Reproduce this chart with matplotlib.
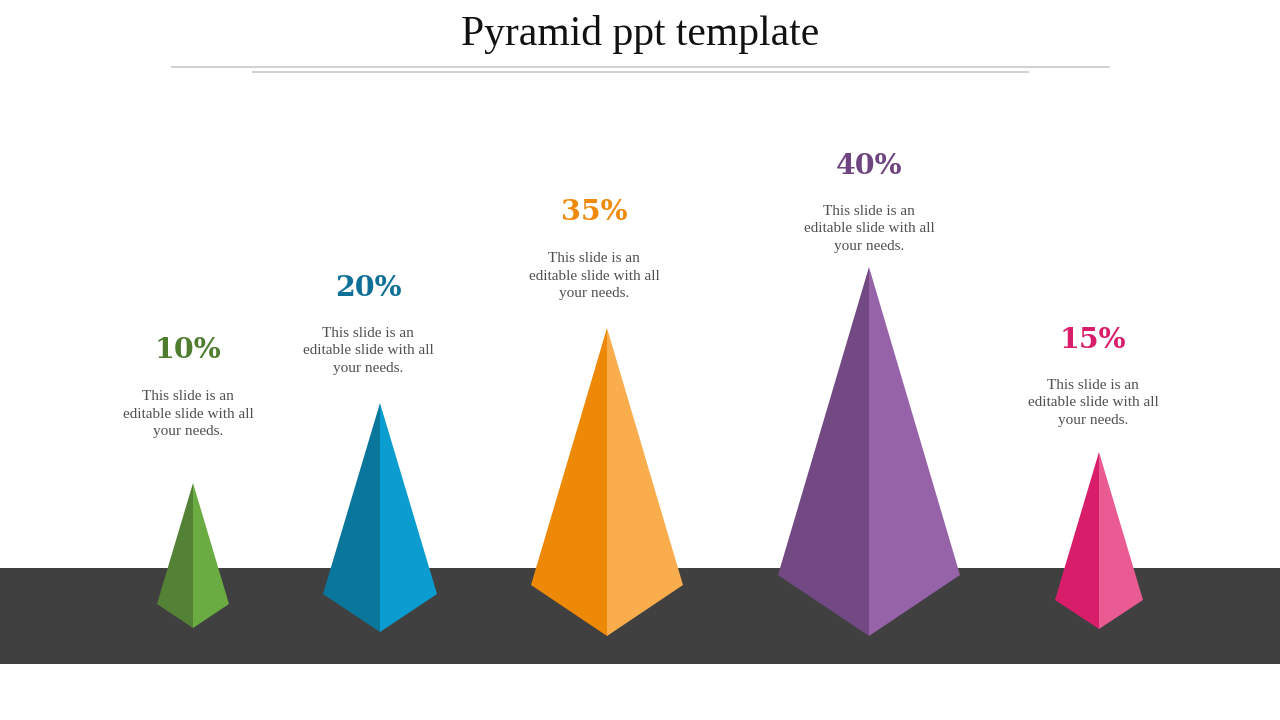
import matplotlib
matplotlib.use("Agg")
import matplotlib.pyplot as plt
from matplotlib.patches import Polygon, Rectangle

# ---- data ----
values = [10, 20, 35, 40, 15]
value_labels = ["10%", "20%", "35%", "40%", "15%"]
dark_colors = ["#538135", "#0b769c", "#ee8807", "#724982", "#d81e6a"]
light_colors = ["#6aab42", "#0b9dcf", "#faad4c", "#9662a8", "#ea5a93"]
label_colors = ["#4f7d30", "#0f7097", "#ef8a0c", "#6f4581", "#d81e6a"]
body_text = "This slide is an\neditable slide with all\nyour needs."
title = "Pyramid ppt template"

# ---- layout (pixel positions) ----
cx = [193, 380, 607, 869, 1099]
apex_y = [483, 403, 328, 267, 452]
shoulder_y = [604, 594, 585, 575, 600]
half_w = [36, 57, 76, 91, 44]
bottom_y = [628, 632, 636, 636, 629]
label_x = [188, 368, 594, 869, 1093]
label_y = [348, 285, 210, 163, 337]
text_y = [414, 351, 276, 229, 403]

fig = plt.figure(figsize=(12.8, 7.2), dpi=100)
ax = fig.add_axes([0, 0, 1, 1])
ax.set_xlim(0, 1280)
ax.set_ylim(720, 0)
ax.axis("off")

# dark floor band
ax.add_patch(Rectangle((0, 568), 1280, 96, facecolor="#404040", edgecolor="none", zorder=1))

# title and rules
ax.text(640, 35, title, ha="center", va="center", fontsize=30,
        family="Liberation Serif", color="#111111")
ax.plot([172, 1109], [66.5, 66.5], color="#c8c8c8", lw=1.2)
ax.plot([253, 1028], [71.5, 71.5], color="#c8c8c8", lw=1.2)

for i, v in enumerate(values):
    x0, ya, ys, hw, yb = cx[i], apex_y[i], shoulder_y[i], half_w[i], bottom_y[i]
    left = Polygon([(x0, ya), (x0 - hw, ys), (x0, yb)], closed=True,
                   facecolor=dark_colors[i], edgecolor="none", zorder=2)
    right = Polygon([(x0, ya), (x0 + hw, ys), (x0, yb)], closed=True,
                    facecolor=light_colors[i], edgecolor="none", zorder=2)
    ax.add_patch(left)
    ax.add_patch(right)
    ax.text(label_x[i], label_y[i] + 3, value_labels[i], ha="center", va="center",
            fontsize=20.5, fontweight="bold", family="DejaVu Serif",
            color=label_colors[i])
    ax.text(label_x[i], text_y[i], body_text, ha="center", va="center",
            fontsize=11, family="Liberation Serif", color="#505050",
            linespacing=1.42)

fig.savefig("out.png", dpi=100, facecolor="white")
